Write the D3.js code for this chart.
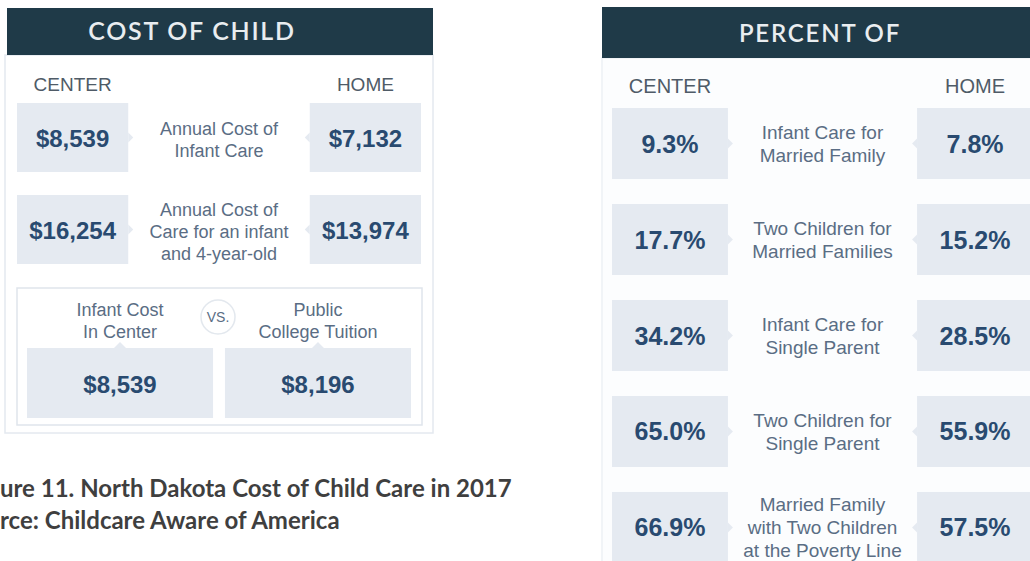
<!DOCTYPE html>
<html>
<head>
<meta charset="utf-8">
<script src="https://cdn.jsdelivr.net/npm/d3@7"></script>
<style>
  html, body { margin: 0; padding: 0; background: #ffffff; }
  svg { display: block; }
</style>
</head>
<body>
<script>
// ---------------- DATA ----------------
const costTitle = "COST OF CHILD";
const percentTitle = "PERCENT OF";
const columnLabels = ["CENTER", "HOME"];

const costCategories = [
  "Annual Cost of\nInfant Care",
  "Annual Cost of\nCare for an infant\nand 4-year-old"
];
const costCenter = [8539, 16254];
const costHome = [7132, 13974];

const comparisonLabels = ["Infant Cost\nIn Center", "Public\nCollege Tuition"];
const comparisonValues = [8539, 8196];
const vsLabel = "VS.";

const percentCategories = [
  "Infant Care for\nMarried Family",
  "Two Children for\nMarried Families",
  "Infant Care for\nSingle Parent",
  "Two Children for\nSingle Parent",
  "Married Family\nwith Two Children\nat the Poverty Line"
];
const percentCenter = [9.3, 17.7, 34.2, 65.0, 66.9];
const percentHome = [7.8, 15.2, 28.5, 55.9, 57.5];

const captionLines = [
  { full: "Figure 11. North Dakota Cost of Child Care in 2017", cut: 3 },
  { full: "Source: Childcare Aware of America", cut: 3 }
];

// ---------------- STYLE ----------------
const W = 1030, H = 561;
const headerFill = "#1f3a48";
const headerText = "#e9edf0";
const boxFill = "#e5eaf1";
const valueColor = "#294a70";
const midColor = "#5a6d84";
const labelColor = "#4f5b67";
const panelStroke = "#e4e9ef";
const sans = "'Liberation Sans', Arial, sans-serif";
const titleFont = "Lato, 'Open Sans', sans-serif";

const fmtMoney = d => "$" + d3.format(",")(d);
const fmtPct = d => d3.format(".1f")(d) + "%";

const svg = d3.select("body").append("svg")
  .attr("width", W).attr("height", H)
  .attr("viewBox", `0 0 ${W} ${H}`);

function multiline(g, text, cx, cy, spacing, size, color) {
  const lines = text.split("\n");
  const t = g.append("text")
    .attr("text-anchor", "middle")
    .attr("font-family", sans)
    .attr("font-size", size)
    .attr("fill", color);
  lines.forEach((ln, i) => {
    t.append("tspan")
      .attr("x", cx)
      .attr("y", cy - (lines.length - 1) * spacing / 2 + i * spacing + size * 0.36)
      .text(ln);
  });
  return t;
}

// ================= LEFT PANEL: COST =================
const L = svg.append("g");
L.append("rect").attr("x", 5).attr("y", 55).attr("width", 428).attr("height", 378)
  .attr("fill", "#ffffff").attr("stroke", panelStroke).attr("stroke-width", 1.5);
L.append("rect").attr("x", 7).attr("y", 8).attr("width", 426).attr("height", 47)
  .attr("fill", headerFill);
L.append("text").attr("x", 192).attr("y", 40).attr("text-anchor", "middle")
  .attr("font-family", titleFont).attr("font-weight", 600).attr("font-size", 25)
  .attr("letter-spacing", 1.7).attr("fill", headerText).text(costTitle);

// column scale (center / home)
const costCol = d3.scaleBand().domain(columnLabels).range([17, 421]).paddingInner(0.62);
const costRow = d3.scaleBand().domain(costCategories).range([103, 264]).paddingInner(0.25);

L.selectAll("text.col").data(columnLabels).join("text")
  .attr("class", "col")
  .attr("x", d => costCol(d) + costCol.bandwidth() / 2)
  .attr("y", 91)
  .attr("text-anchor", "middle")
  .attr("font-family", sans).attr("font-size", 19).attr("fill", labelColor)
  .text(d => d);

costCategories.forEach((cat, i) => {
  const y0 = costRow(cat), bh = costRow.bandwidth(), cy = y0 + bh / 2;
  const vals = [costCenter[i], costHome[i]];
  columnLabels.forEach((col, j) => {
    const x0 = costCol(col), bw = costCol.bandwidth();
    L.append("rect").attr("x", x0).attr("y", y0).attr("width", bw).attr("height", bh)
      .attr("fill", boxFill);
    const nx = j === 0 ? x0 + bw : x0;
    const dir = j === 0 ? 1 : -1;
    L.append("path")
      .attr("d", `M${nx},${cy - 5}L${nx + dir * 5},${cy}L${nx},${cy + 5}Z`)
      .attr("fill", boxFill);
    L.append("text").attr("x", x0 + bw / 2).attr("y", cy + 9)
      .attr("text-anchor", "middle").attr("font-family", sans)
      .attr("font-weight", "bold").attr("font-size", 24).attr("fill", valueColor)
      .text(fmtMoney(vals[j]));
  });
  const mid = (costCol("CENTER") + costCol.bandwidth() + costCol("HOME")) / 2;
  multiline(L, cat, mid, cy + 2, 22, 18, midColor);
});

// comparison sub-panel
L.append("rect").attr("x", 17).attr("y", 288).attr("width", 405).attr("height", 137)
  .attr("fill", "#ffffff").attr("stroke", "#dfe5ec").attr("stroke-width", 1.5);
const cmpX = d3.scaleBand().domain(comparisonLabels).range([27, 411]).paddingInner(0.06);
comparisonLabels.forEach((lab, i) => {
  const x0 = cmpX(lab), bw = cmpX.bandwidth(), cx = x0 + bw / 2;
  multiline(L, lab, cx, 321, 22, 18, midColor);
  L.append("rect").attr("x", x0).attr("y", 348).attr("width", bw).attr("height", 70)
    .attr("fill", boxFill);
  L.append("path").attr("d", `M${cx - 6},348L${cx},342L${cx + 6},348Z`).attr("fill", boxFill);
  L.append("text").attr("x", cx).attr("y", 393).attr("text-anchor", "middle")
    .attr("font-family", sans).attr("font-weight", "bold").attr("font-size", 24)
    .attr("fill", valueColor).text(fmtMoney(comparisonValues[i]));
});
L.append("circle").attr("cx", 218).attr("cy", 317).attr("r", 17)
  .attr("fill", "#ffffff").attr("stroke", "#e3e8ee").attr("stroke-width", 1.5);
L.append("text").attr("x", 218).attr("y", 322).attr("text-anchor", "middle")
  .attr("font-family", sans).attr("font-size", 14).attr("fill", midColor).text(vsLabel);

// caption (left part clipped at page edge)
const capG = svg.append("g");
const capBase = [497, 529];
captionLines.forEach((c, i) => {
  const t = capG.append("text").attr("y", capBase[i])
    .attr("font-family", "Lato, 'Open Sans', sans-serif").attr("font-weight", "bold")
    .attr("font-size", 22).attr("fill", "#3f3f3f").text(c.full);
  c.node = t;
});
(function () {
  const t0 = captionLines[0].node.node();
  const total = t0.getComputedTextLength();
  const cutW = t0.getSubStringLength(0, captionLines[0].cut);
  const visible = total - cutW;
  const size = 22 * 512 / visible;
  captionLines.forEach(c => {
    c.node.attr("font-size", size);
    const n = c.node.node();
    const cw = n.getSubStringLength(0, c.cut);
    c.node.attr("x", -cw);
  });
})();

// ================= RIGHT PANEL: PERCENT =================
const R = svg.append("g");
R.append("rect").attr("x", 602).attr("y", 58).attr("width", 440).attr("height", 520)
  .attr("fill", "#fcfdfe").attr("stroke", "#edf1f5").attr("stroke-width", 1.5);
R.append("rect").attr("x", 602).attr("y", 7).attr("width", 440).attr("height", 51)
  .attr("fill", headerFill);
R.append("text").attr("x", 820).attr("y", 42).attr("text-anchor", "middle")
  .attr("font-family", titleFont).attr("font-weight", 600).attr("font-size", 24)
  .attr("letter-spacing", 1.8).attr("fill", headerText).text(percentTitle);

const pctCol = d3.scaleBand().domain(columnLabels).range([612, 1033]).paddingInner(0.62);
const pctRow = d3.scaleBand().domain(percentCategories).range([108, 563]).paddingInner(0.26);

R.selectAll("text.col").data(columnLabels).join("text")
  .attr("class", "col")
  .attr("x", d => pctCol(d) + pctCol.bandwidth() / 2)
  .attr("y", 93)
  .attr("text-anchor", "middle")
  .attr("font-family", sans).attr("font-size", 20).attr("fill", labelColor)
  .text(d => d);

percentCategories.forEach((cat, i) => {
  const y0 = pctRow(cat), bh = pctRow.bandwidth(), cy = y0 + bh / 2;
  const vals = [percentCenter[i], percentHome[i]];
  columnLabels.forEach((col, j) => {
    const x0 = pctCol(col), bw = pctCol.bandwidth();
    R.append("rect").attr("x", x0).attr("y", y0).attr("width", bw).attr("height", bh)
      .attr("fill", boxFill);
    const nx = j === 0 ? x0 + bw : x0;
    const dir = j === 0 ? 1 : -1;
    R.append("path")
      .attr("d", `M${nx},${cy - 5}L${nx + dir * 5},${cy}L${nx},${cy + 5}Z`)
      .attr("fill", boxFill);
    R.append("text").attr("x", x0 + bw / 2).attr("y", cy + 9)
      .attr("text-anchor", "middle").attr("font-family", sans)
      .attr("font-weight", "bold").attr("font-size", 25).attr("fill", valueColor)
      .text(fmtPct(vals[j]));
  });
  const mid = (pctCol("CENTER") + pctCol.bandwidth() + pctCol("HOME")) / 2;
  multiline(R, cat, mid, cy, 23, 19, midColor);
});
</script>
</body>
</html>
